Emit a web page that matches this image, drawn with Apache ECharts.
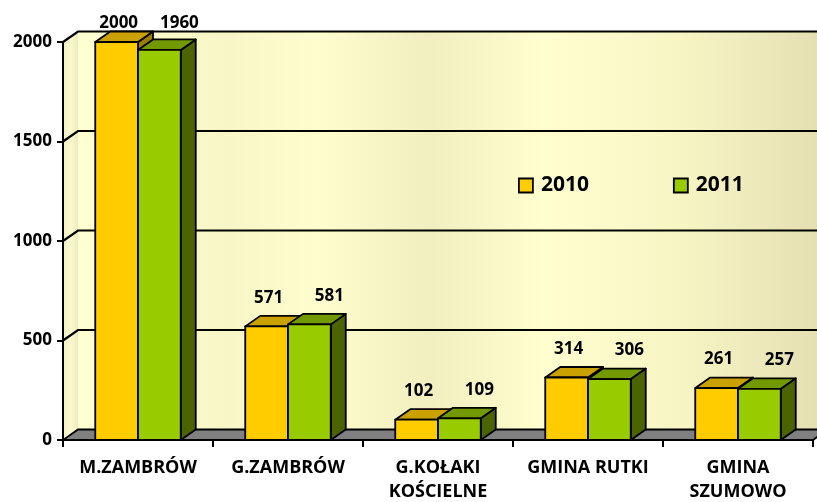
<!DOCTYPE html>
<html>
<head>
<meta charset="utf-8">
<script src="https://cdn.jsdelivr.net/npm/echarts@6/dist/echarts.min.js"></script>
<style>
  html, body { margin: 0; padding: 0; background: #fff; }
  #chart { width: 817px; height: 502px; }
</style>
</head>
<body>
<div id="chart"></div>
<script>
const categories = ['M.ZAMBRÓW', 'G.ZAMBRÓW', 'G.KOŁAKI\nKOŚCIELNE', 'GMINA RUTKI', 'GMINA\nSZUMOWO']
const values2010 = [2000, 571, 102, 314, 261]
const values2011 = [1960, 581, 109, 306, 257]
const yTicks = [0, 500, 1000, 1500, 2000]

// przesuniecie glebi (efekt 3D)
const DX = 15
const DY = -10.5
const FONT = '"Open Sans", sans-serif'

const yellow = { front: '#FFCC00', top: '#C9A100', side: '#9C7D00' }
const green = { front: '#99CC00', top: '#729A00', side: '#4C6400' }

function poly(points, fill) {
  return {
    type: 'polygon',
    shape: { points: points },
    style: { fill: fill, stroke: '#000', lineWidth: 1.8, lineJoin: 'round' }
  }
}

function renderFrame(params, api) {
  const band = api.size([1, 0])[0]
  const p0 = api.coord([0, 0])
  const pLast = api.coord([categories.length - 1, 0])
  const left = p0[0] - band / 2
  const right = pLast[0] + band / 2
  const base = p0[1]
  const top = api.coord([0, yTicks[yTicks.length - 1]])[1]
  const children = []
  // sciana tylna
  children.push({
    type: 'polygon',
    shape: { points: [[left + DX, top + DY], [right + DX, top + DY], [right + DX, base + DY], [left + DX, base + DY]] },
    style: {
      fill: new echarts.graphic.LinearGradient(0, 0, 1, 0, [
        { offset: 0, color: '#FFFFD2' },
        { offset: 0.2, color: '#F8F6C6' },
        { offset: 0.32, color: '#FEFDCD' },
        { offset: 0.47, color: '#F1EEC0' },
        { offset: 0.62, color: '#FFFECE' },
        { offset: 0.8, color: '#F8F5C5' },
        { offset: 1, color: '#E2DEB0' }
      ])
    }
  })
  // sciana boczna
  children.push({
    type: 'polygon',
    shape: { points: [[left, top], [left + DX, top + DY], [left + DX, base + DY], [left, base]] },
    style: {
      fill: new echarts.graphic.LinearGradient(0, 0, 1, 0, [
        { offset: 0, color: '#F3F0C4' },
        { offset: 0.5, color: '#FBF9CE' },
        { offset: 1, color: '#EEEBBE' }
      ])
    }
  })
  // podloga
  children.push({
    type: 'polygon',
    shape: { points: [[left, base], [right, base], [right + DX, base + DY], [left + DX, base + DY]] },
    style: { fill: '#808080', stroke: '#000', lineWidth: 1.8 }
  })
  // linie siatki
  yTicks.forEach(function (t) {
    if (t === 0) return
    const y = api.coord([0, t])[1]
    children.push({
      type: 'polyline',
      shape: { points: [[left, y], [left + DX, y + DY], [right + DX, y + DY]] },
      style: { stroke: '#000', lineWidth: 2.2, fill: null }
    })
  })
  return { type: 'group', children: children }
}

function makeBarRender(idx, colors, labelShift) {
  return function (params, api) {
    const cat = api.value(0)
    const val = api.value(1)
    const band = api.size([1, 0])[0]
    const w = band * 0.285
    const pt = api.coord([cat, val])
    const base = api.coord([cat, 0])[1]
    const x0 = idx === 0 ? pt[0] - w : pt[0]
    const x1 = x0 + w
    const y = pt[1]
    let ly = y + DY - 18
    if (ly < 23) ly = 23
    return {
      type: 'group',
      children: [
        poly([[x1, y], [x1 + DX, y + DY], [x1 + DX, base + DY], [x1, base]], colors.side),
        poly([[x0, y], [x0 + DX, y + DY], [x1 + DX, y + DY], [x1, y]], colors.top),
        poly([[x0, y], [x1, y], [x1, base], [x0, base]], colors.front),
        {
          type: 'text',
          z2: 10,
          style: {
            x: (x0 + x1) / 2 + labelShift,
            y: ly,
            text: String(val),
            fill: '#000',
            font: 'bold 17px ' + FONT,
            align: 'center',
            verticalAlign: 'middle'
          }
        }
      ]
    }
  }
}

const chart = echarts.init(document.getElementById('chart'))
const option = {
  animation: false,
  backgroundColor: '#fff',
  grid: { left: 63, right: 4, top: 42, bottom: 62, outerBoundsMode: 'none', containLabel: false },
  legend: {
    left: 513,
    top: 170,
    itemWidth: 14,
    itemHeight: 14,
    itemGap: 84,
    textStyle: { fontFamily: FONT, fontWeight: 'bold', fontSize: 21, color: '#000', padding: [0, 0, 0, 3] },
    data: [
      { name: '2010', icon: 'rect', itemStyle: { color: yellow.front, borderColor: '#000', borderWidth: 1.8 } },
      { name: '2011', icon: 'rect', itemStyle: { color: green.front, borderColor: '#000', borderWidth: 1.8 } }
    ]
  },
  xAxis: {
    type: 'category',
    data: categories,
    z: 5,
    axisLine: { lineStyle: { color: '#000', width: 2 } },
    axisTick: { show: true, length: 7, lineStyle: { color: '#000', width: 2 } },
    axisLabel: {
      interval: 0,
      margin: 16,
      color: '#000',
      fontFamily: FONT,
      fontWeight: 'bold',
      fontSize: 18,
      lineHeight: 24
    },
    splitLine: { show: false }
  },
  yAxis: {
    type: 'value',
    min: 0,
    max: 2000,
    interval: 500,
    z: 5,
    axisLine: { show: true, lineStyle: { color: '#000', width: 2 } },
    axisTick: { show: true, length: 6, lineStyle: { color: '#000', width: 2 } },
    axisLabel: {
      margin: 11,
      color: '#000',
      fontFamily: FONT,
      fontWeight: 'bold',
      fontSize: 17,
      formatter: function (v) { return String(v) }
    },
    splitLine: { show: false }
  },
  series: [
    {
      type: 'custom',
      name: 'frame',
      z: 1,
      renderItem: renderFrame,
      data: [[0, 0]]
    },
    {
      type: 'custom',
      name: '2010',
      z: 3,
      itemStyle: { color: yellow.front },
      renderItem: makeBarRender(0, yellow, 2),
      data: values2010.map(function (v, i) { return [i, v] })
    },
    {
      type: 'custom',
      name: '2011',
      z: 3,
      itemStyle: { color: green.front },
      renderItem: makeBarRender(1, green, 20),
      data: values2011.map(function (v, i) { return [i, v] })
    }
  ]
}
chart.setOption(option)
window.onresize = function () {
  chart.resize()
}
</script>
</body>
</html>
